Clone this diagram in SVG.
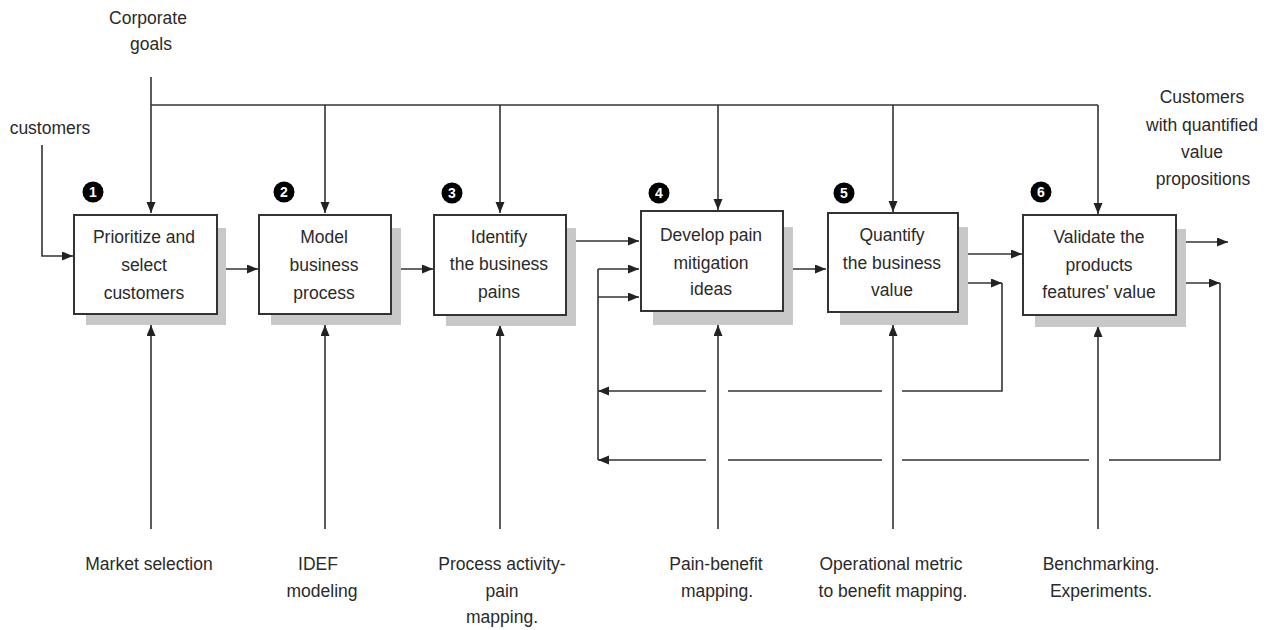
<svg xmlns="http://www.w3.org/2000/svg" width="1270" height="630" viewBox="0 0 1270 630">
<style>
text{font-family:"Liberation Sans",Arial,sans-serif;font-size:17.5px;fill:#2a2a2a;text-anchor:middle}
.box{fill:#fff;stroke:#333;stroke-width:2}
.sh{fill:#c8c8c8}
.ln{fill:none;stroke:#333;stroke-width:1.6}
.ar{marker-end:url(#ah)}
.badge circle{fill:#000}
.badge text{fill:#fff;font-weight:bold;font-size:14px}
</style>
<defs>
<marker id="ah" markerUnits="userSpaceOnUse" markerWidth="12" markerHeight="10" refX="11" refY="4.5" orient="auto">
<path d="M0,0 L11,4.5 L0,9 z" fill="#222"/>
</marker>
</defs>
<rect width="1270" height="630" fill="#fff"/>

<g id="labels">
<text x="148" y="24">Corporate</text>
<text x="151" y="50">goals</text>
<text x="50" y="134">customers</text>
<text x="1202" y="103">Customers</text>
<text x="1202" y="131">with quantified</text>
<text x="1202" y="158">value</text>
<text x="1203" y="185">propositions</text>
<text x="149" y="570">Market selection</text>
<text x="318" y="570">IDEF</text>
<text x="322" y="597">modeling</text>
<text x="502" y="570">Process activity-</text>
<text x="502" y="597">pain</text>
<text x="502" y="623">mapping.</text>
<text x="716" y="570">Pain-benefit</text>
<text x="717" y="597">mapping.</text>
<text x="891" y="570">Operational metric</text>
<text x="893" y="597">to benefit mapping.</text>
<text x="1101" y="570">Benchmarking.</text>
<text x="1101" y="597">Experiments.</text>
</g>

<g id="connectors">
<path class="ln ar" d="M151,77 V213"/>
<path class="ln" d="M151,105 H1098"/>
<path class="ln ar" d="M325,105 V213"/>
<path class="ln ar" d="M500,105 V213"/>
<path class="ln ar" d="M718,105 V210"/>
<path class="ln ar" d="M893,105 V212"/>
<path class="ln ar" d="M1098,105 V214"/>
<path class="ln ar" d="M42,145 V256 H73"/>
<path class="ln ar" d="M217,269 H258"/>
<path class="ln ar" d="M391,269 H433"/>
<path class="ln ar" d="M566,241 H639"/>
<path class="ln ar" d="M783,269 H826"/>
<path class="ln ar" d="M958,254 H1022"/>
<path class="ln ar" d="M1176,242 H1228"/>
<path class="ln ar" d="M958,283 H1002"/>
<path class="ln" d="M1002,283 V391 H902"/>
<path class="ln" d="M882,391 H728"/>
<path class="ln ar" d="M706,391 H598"/>
<path class="ln ar" d="M1176,283 H1220"/>
<path class="ln" d="M1220,283 V460 H1109"/>
<path class="ln" d="M1089,460 H902"/>
<path class="ln" d="M882,460 H728"/>
<path class="ln ar" d="M706,460 H598"/>
<path class="ln" d="M598,269 V460"/>
<path class="ln ar" d="M598,269 H639"/>
<path class="ln ar" d="M598,297 H639"/>
<path class="ln ar" d="M151,529 V325"/>
<path class="ln ar" d="M325,529 V325"/>
<path class="ln ar" d="M500,529 V325"/>
<path class="ln ar" d="M718,529 V325"/>
<path class="ln ar" d="M893,529 V325"/>
<path class="ln ar" d="M1098,529 V326"/>
</g>

<g id="node1">
<rect class="sh" x="86" y="228" width="140" height="97"/>
<rect class="box" x="74" y="215" width="143" height="99"/>
<text x="144" y="243">Prioritize and</text>
<text x="144" y="271">select</text>
<text x="144" y="299">customers</text>
<g class="badge"><circle cx="93" cy="192" r="10.5"/><text x="93" y="197">1</text></g>
</g>
<g id="node2">
<rect class="sh" x="271" y="228" width="130" height="97"/>
<rect class="box" x="259" y="215" width="132" height="99"/>
<text x="324" y="243">Model</text>
<text x="324" y="271">business</text>
<text x="324" y="299">process</text>
<g class="badge"><circle cx="284" cy="192" r="10.5"/><text x="284" y="197">2</text></g>
</g>
<g id="node3">
<rect class="sh" x="446" y="228" width="130" height="98"/>
<rect class="box" x="434" y="215" width="132" height="100"/>
<text x="499" y="243">Identify</text>
<text x="499" y="270">the business</text>
<text x="499" y="298">pains</text>
<g class="badge"><circle cx="452" cy="193" r="10.5"/><text x="452" y="198">3</text></g>
</g>
<g id="node4">
<rect class="sh" x="653" y="227" width="140" height="98"/>
<rect class="box" x="641" y="211" width="142" height="100"/>
<text x="711" y="241">Develop pain</text>
<text x="711" y="269">mitigation</text>
<text x="711" y="295">ideas</text>
<g class="badge"><circle cx="659" cy="193" r="10.5"/><text x="659" y="198">4</text></g>
</g>
<g id="node5">
<rect class="sh" x="840" y="227" width="128" height="98"/>
<rect class="box" x="828" y="213" width="130" height="99"/>
<text x="892" y="241">Quantify</text>
<text x="892" y="269">the business</text>
<text x="892" y="296">value</text>
<g class="badge"><circle cx="844" cy="193" r="10.5"/><text x="844" y="198">5</text></g>
</g>
<g id="node6">
<rect class="sh" x="1035" y="229" width="151" height="98"/>
<rect class="box" x="1023" y="215" width="153" height="100"/>
<text x="1099" y="243">Validate the</text>
<text x="1099" y="271">products</text>
<text x="1099" y="298">features' value</text>
<g class="badge"><circle cx="1041" cy="192" r="10.5"/><text x="1041" y="197">6</text></g>
</g>
</svg>
